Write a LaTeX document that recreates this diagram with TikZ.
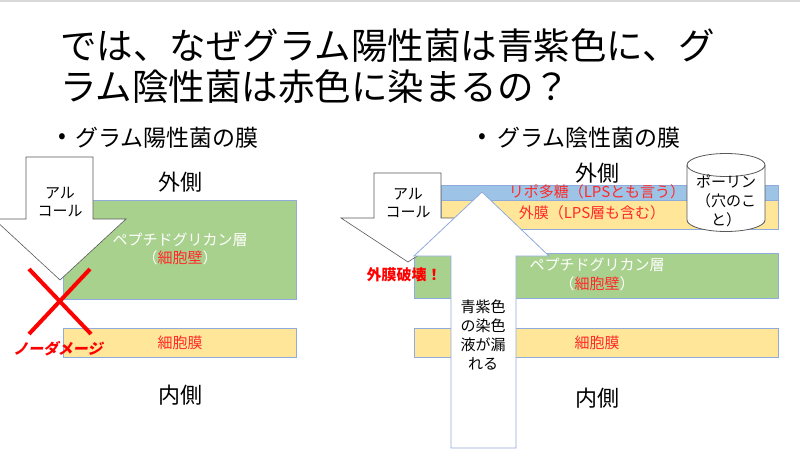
\documentclass[tikz,border=0pt]{standalone}
\usepackage{fontspec}
\setmainfont{Noto Sans CJK JP}
\newfontfamily\slantjp[FakeSlant=0.2]{Noto Sans CJK JP}
\definecolor{pgGreen}{HTML}{A9D18E}
\definecolor{memYellow}{HTML}{FFE699}
\definecolor{lpsBlue}{HTML}{9DC3E6}
\definecolor{edgeBlue}{HTML}{8FAADC}
\definecolor{txtRed}{HTML}{FF2A2A}
\definecolor{arrowGray}{HTML}{595959}
\definecolor{topGray}{HTML}{D9D9D9}
\tikzset{
  layer/.style={draw=edgeBlue, line width=0.8pt},
  arrowshape/.style={fill=white, draw=arrowGray, line width=0.6pt},
  uparrowshape/.style={fill=white, draw=edgeBlue, line width=0.8pt},
  smalltxt/.style={font=\fontsize{15}{18.5}\selectfont, inner sep=0pt, align=center},
  sidetxt/.style={font=\fontsize{22}{26}\selectfont, inner sep=0pt, anchor=base},
  bullettxt/.style={font=\fontsize{23}{27}\selectfont, inner sep=0pt, anchor=base west},
  titletxt/.style={font=\fontsize{36.5}{40}\selectfont, inner sep=0pt, anchor=base west},
  redbold/.style={font=\fontsize{15}{18}\selectfont\bfseries, text=red, inner sep=0pt},
}
\begin{document}
\begin{tikzpicture}[x=1pt,y=-1pt]
\clip (0,0) rectangle (800,455);
\fill[white] (0,0) rectangle (800,455);
\fill[topGray] (0,0) rectangle (800,1.5);

% title
\node[titletxt] (title1) at (60,59) {では、なぜグラム陽性菌は青紫色に、グ};
\node[titletxt] (title2) at (60,100) {ラム陰性菌は赤色に染まるの？};

% bullets
\node[font=\fontsize{23}{27}\selectfont, inner sep=0pt] (dotL) at (62,139) {•};
\node[bullettxt] (bulletL) at (75,146.5) {グラム陽性菌の膜};
\node[font=\fontsize{23}{27}\selectfont, inner sep=0pt] (dotR) at (482,139) {•};
\node[bullettxt] (bulletR) at (497,146.5) {グラム陰性菌の膜};

% ===== left: Gram positive =====
\node[sidetxt] (outL) at (180,190.5) {外側};
\node[sidetxt] (inL) at (180,403.5) {内側};

\draw[layer, fill=pgGreen] (63,200) rectangle (296,299);
\node[smalltxt, text=white] (pgL) at (180,240) {ペプチドグリカン層};
\node[smalltxt, text=white] (wallL) at (180,258) {（\textcolor{txtRed}{細胞壁}）};

\draw[layer, fill=memYellow] (63,328) rectangle (296,357);
\node[smalltxt, text=txtRed] (memL) at (180,342.5) {細胞膜};

\draw[arrowshape] (26,157) -- (93,157) -- (93,219) -- (126,219) -- (60,280) -- (-6,219) -- (26,219) -- cycle;
\node[smalltxt] (alcL) at (60,202) {アル\\コール};

\coordinate (xa) at (29,269);
\coordinate (xb) at (91,334);
\coordinate (xc) at (90,269);
\coordinate (xd) at (29,334);
\draw[red, line width=4pt] (xa) -- (xb);
\draw[red, line width=4pt] (xc) -- (xd);
\node[redbold, font=\fontsize{15}{18}\selectfont\slantjp\bfseries] (nodmg) at (58,349) {ノーダメージ};

% ===== right: Gram negative =====
\node[sidetxt] (outR) at (597,181.5) {外側};
\node[sidetxt] (inR) at (597,406.5) {内側};

\draw[layer, fill=lpsBlue] (441,185) rectangle (778,200);
\draw[layer, fill=memYellow] (441,200) rectangle (778,229);
\node[smalltxt, text=txtRed] (lps) at (597,192) {リポ多糖（LPSとも言う）};
\node[smalltxt, text=txtRed] (om) at (592,213) {外膜（LPS層も含む）};

\draw[layer, fill=pgGreen] (414,253) rectangle (778,298);
\node[smalltxt, text=white] (pgR) at (597,265) {ペプチドグリカン層};
\node[smalltxt, text=white] (wallR) at (597,284) {（\textcolor{txtRed}{細胞壁}）};

\draw[layer, fill=memYellow] (414,328) rectangle (778,357);
\node[smalltxt, text=txtRed] (memR) at (597,343) {細胞膜};

% porin cylinder
\fill[white] (687,165) rectangle (765,220);
\fill[white] (726,220) ellipse [x radius=39pt, y radius=11.5pt];
\draw[arrowGray, line width=0.8pt] (687,165) -- (687,220) arc[start angle=180, end angle=360, x radius=39pt, y radius=11.5pt] -- (765,165);
\draw[arrowGray, line width=0.8pt] (726,165) ellipse [x radius=39pt, y radius=11.5pt];
\node[smalltxt, font=\fontsize{15}{19}\selectfont] (porin) at (726,201) {ポーリン\\（穴のこ\\と）};

% alcohol arrow (right)
\draw[arrowshape] (374,173) -- (441,173) -- (441,218) -- (475,218) -- (408,262) -- (341,218) -- (374,218) -- cycle;
\node[smalltxt] (alcR) at (408,203) {アル\\コール};

% leaking dye arrow
\draw[uparrowshape] (451,448) -- (451,256) -- (414,256) -- (482,192) -- (549,256) -- (516,256) -- (516,448) -- cycle;
\node[smalltxt, font=\fontsize{15}{18.7}\selectfont] (leak) at (483,335) {青紫色\\の染色\\液が漏\\れる};

\node[redbold] (omdmg) at (404,275) {外膜破壊！};
\end{tikzpicture}
\end{document}
